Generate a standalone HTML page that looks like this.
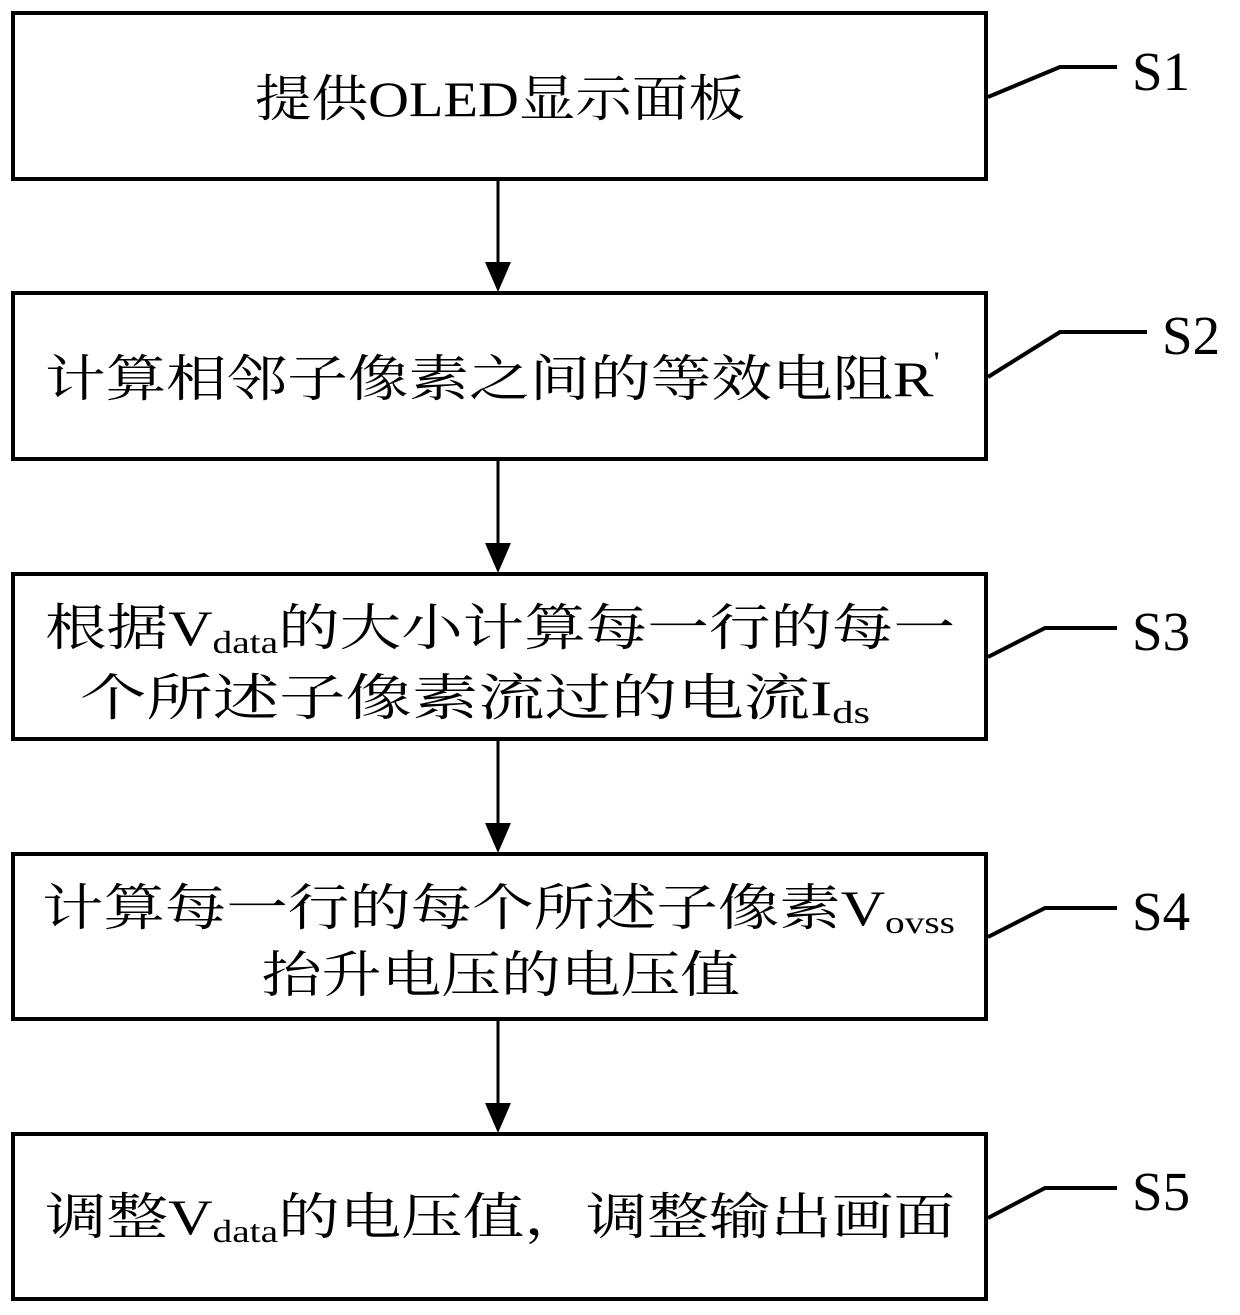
<!DOCTYPE html>
<html><head><meta charset="utf-8"><style>
html,body{margin:0;padding:0;background:#fff}
svg{display:block}
text{font-family:"Liberation Serif","Noto Serif CJK SC",serif;fill:#000}
</style></head><body>
<svg width="1240" height="1315" viewBox="0 0 1240 1315" xmlns="http://www.w3.org/2000/svg">
<g fill="none" stroke="#000" stroke-width="4">
<rect x="13" y="13" width="973" height="166"/>
<rect x="13" y="293" width="973" height="166"/>
<rect x="13" y="574" width="973" height="165"/>
<rect x="13" y="854" width="973" height="165"/>
<rect x="13" y="1134" width="973" height="165"/>
</g>
<g stroke="#000" stroke-width="3">
<line x1="498" y1="180" x2="498" y2="262"/>
<line x1="498" y1="460" x2="498" y2="543"/>
<line x1="498" y1="740" x2="498" y2="823"/>
<line x1="498" y1="1020" x2="498" y2="1103"/>
</g>
<g fill="#000">
<polygon points="485,262 511,262 498,292"/>
<polygon points="485,543 511,543 498,573"/>
<polygon points="485,823 511,823 498,853"/>
<polygon points="485,1103 511,1103 498,1133"/>
</g>
<g fill="none" stroke="#000" stroke-width="4">
<polyline points="988,97 1060,67 1117,67"/>
<polyline points="988,377 1060,332 1147,332"/>
<polyline points="988,657 1045,628 1117,628"/>
<polyline points="988,937 1045,908 1117,908"/>
<polyline points="988,1218 1045,1188 1117,1188"/>
</g>
<g font-size="55">
<text x="1132" y="90">S1</text>
<text x="1162" y="354">S2</text>
<text x="1132" y="650">S3</text>
<text x="1132" y="930">S4</text>
<text x="1132" y="1210">S5</text>
</g>
<g font-size="50">
<text x="255" y="116" textLength="490" lengthAdjust="spacingAndGlyphs">提供OLED显示面板</text>
<text x="45" y="396" textLength="895" lengthAdjust="spacingAndGlyphs">计算相邻子像素之间的等效电阻R<tspan font-size="30" dy="-24">'</tspan></text>
<text x="45" y="645" textLength="910" lengthAdjust="spacingAndGlyphs">根据V<tspan font-size="32" dy="8">data</tspan><tspan dy="-8">的大小计算每一行的每一</tspan></text>
<text x="80" y="715" textLength="790" lengthAdjust="spacingAndGlyphs">个所述子像素流过的电流I<tspan font-size="32" dy="8">ds</tspan></text>
<text x="42" y="925" textLength="913" lengthAdjust="spacingAndGlyphs">计算每一行的每个所述子像素V<tspan font-size="32" dy="8">ovss</tspan></text>
<text x="262" y="992" textLength="478" lengthAdjust="spacingAndGlyphs">抬升电压的电压值</text>
<text x="45" y="1234" textLength="910" lengthAdjust="spacingAndGlyphs">调整V<tspan font-size="32" dy="8">data</tspan><tspan dy="-8">的电压值，调整输出画面</tspan></text>
</g>
</svg>
</body></html>
